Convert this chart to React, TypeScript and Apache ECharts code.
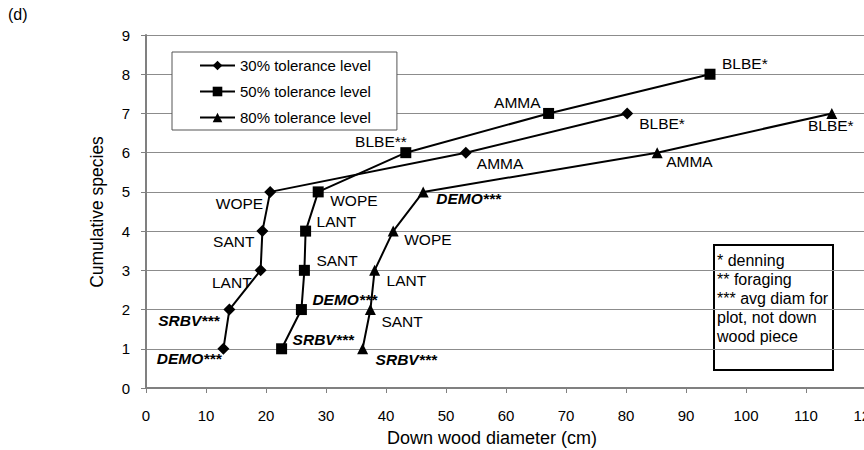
import React, { useEffect, useRef } from "react";
import * as echarts from "echarts";

// ---- data ----
const seriesNames = ["30% tolerance level", "50% tolerance level", "80% tolerance level"];

const species30 = ["DEMO***", "SRBV***", "LANT", "SANT", "WOPE", "AMMA", "BLBE*"];
const diam30 = [12.9, 13.9, 19.1, 19.4, 20.7, 53.3, 80.2];
const cum30 = [1, 2, 3, 4, 5, 6, 7];

const species50 = ["SRBV***", "DEMO***", "SANT", "LANT", "WOPE", "BLBE**", "AMMA", "BLBE*"];
const diam50 = [22.6, 25.9, 26.4, 26.6, 28.7, 43.3, 67.1, 94.0];
const cum50 = [1, 2, 3, 4, 5, 6, 7, 8];

const species80 = ["SRBV***", "SANT", "LANT", "WOPE", "DEMO***", "AMMA", "BLBE*"];
const diam80 = [36.1, 37.4, 38.1, 41.2, 46.2, 85.2, 114.3];
const cum80 = [1, 2, 3, 4, 5, 6, 7];

const xTicks = [0, 10, 20, 30, 40, 50, 60, 70, 80, 90, 100, 110, 120];
const yTicks = [0, 1, 2, 3, 4, 5, 6, 7, 8, 9];

const noteLines = ["* denning", "** foraging", "*** avg diam for", "plot, not down", "wood piece"];

// ---- label placement (layout only) ----
type Place = [number, number, string];
const place30: Place[] = [
  [-2, 10, "right"], [-10, 11, "right"], [-9, 12, "right"], [-8, 10, "right"],
  [-7, 12, "right"], [11, 11, "left"], [12, 10, "left"],
];
const place50: Place[] = [
  [11, -9, "left"], [11, -10, "left"], [12, -10, "left"], [11, -10, "left"],
  [12, 9, "left"], [1, -11, "right"], [-8, -11, "right"], [12, -11, "left"],
];
const place80: Place[] = [
  [13, 11, "left"], [11, 12, "left"], [12, 10, "left"], [11, 8, "left"],
  [13, 7, "left"], [9, 9, "left"], [-1, 12, "center"],
];

const FONT = "'Liberation Sans', Arial, sans-serif";

function buildData(xs: number[], ys: number[], names: string[], places: Place[]) {
  return xs.map((x, i) => {
    const name = names[i];
    const emph = name.endsWith("***");
    const p = places[i];
    return {
      value: [x, ys[i]],
      label: {
        show: true,
        formatter: name,
        position: "inside",
        offset: [p[0], p[1]],
        align: p[2],
        verticalAlign: "middle",
        color: "#000",
        fontSize: 15.5,
        fontFamily: FONT,
        fontWeight: emph ? "bold" : "normal",
        fontStyle: emph ? "italic" : "normal",
      },
    };
  });
}

export default function App() {
  const ref = useRef<HTMLDivElement>(null);

  useEffect(() => {
    if (!ref.current) return;
    const chart = echarts.init(ref.current, null, { renderer: "svg" });

    const lineStyle = { color: "#000", width: 2 };
    const itemStyle = { color: "#000" };

    const option: any = {
      animation: false,
      backgroundColor: "#fff",
      textStyle: { fontFamily: FONT },
      grid: {
        left: 146,
        top: 35,
        width: 720,
        height: 353,
        containLabel: false,
        outerBoundsMode: "none",
      },
      legend: {
        show: true,
        orient: "vertical",
        left: 172,
        top: 52,
        data: seriesNames,
        itemWidth: 35,
        itemHeight: 12,
        itemGap: 11,
        padding: [6, 26, 5, 27],
        borderColor: "#555",
        borderWidth: 1,
        backgroundColor: "#fff",
        itemStyle: { color: "#000" },
        lineStyle: { color: "#000", width: 2 },
        textStyle: { color: "#000", fontSize: 15, fontFamily: FONT },
        z: 10,
      },
      xAxis: {
        type: "value",
        min: xTicks[0],
        max: xTicks[xTicks.length - 1],
        interval: 10,
        axisLine: { show: true, lineStyle: { color: "#808080", width: 2 } },
        axisTick: { show: true, length: 5, lineStyle: { color: "#808080", width: 1 } },
        axisLabel: { color: "#000", fontSize: 15, margin: 20, fontFamily: FONT },
        splitLine: { show: false },
      },
      yAxis: {
        type: "value",
        min: yTicks[0],
        max: yTicks[yTicks.length - 1],
        interval: 1,
        axisLine: { show: true, lineStyle: { color: "#808080", width: 2 } },
        axisTick: { show: true, length: 5, lineStyle: { color: "#808080", width: 1 } },
        axisLabel: { color: "#000", fontSize: 15, margin: 16, fontFamily: FONT },
        splitLine: { show: true, lineStyle: { color: "#8c8c8c", width: 1 } },
      },
      graphic: [
        {
          type: "text",
          left: 8,
          top: 6,
          style: { text: "(d)", fontSize: 16, fontFamily: FONT, fill: "#000" },
        },
        {
          type: "text",
          x: 492,
          y: 438,
          style: {
            text: "Down wood diameter (cm)",
            fontSize: 18,
            fontFamily: FONT,
            fill: "#000",
            align: "center",
            verticalAlign: "middle",
          },
        },
        {
          type: "text",
          x: 97,
          y: 212,
          rotation: Math.PI / 2,
          style: {
            text: "Cumulative species",
            fontSize: 17.5,
            fontFamily: FONT,
            fill: "#000",
            align: "center",
            verticalAlign: "middle",
          },
        },
        {
          type: "group",
          z: 100,
          children: [
            {
              type: "rect",
              shape: { x: 714, y: 245, width: 119, height: 125 },
              style: { fill: "#fff", stroke: "#000", lineWidth: 2 },
            },
            {
              type: "text",
              x: 717,
              y: 251,
              style: {
                text: noteLines.join("\n"),
                fontSize: 16,
                lineHeight: 19,
                fontFamily: FONT,
                fill: "#000",
                align: "left",
                verticalAlign: "top",
              },
            },
          ],
        },
      ],
      series: [
        {
          name: seriesNames[0],
          type: "line",
          symbol: "diamond",
          symbolSize: 12,
          lineStyle,
          itemStyle,
          data: buildData(diam30, cum30, species30, place30),
        },
        {
          name: seriesNames[1],
          type: "line",
          symbol: "rect",
          symbolSize: 11,
          lineStyle,
          itemStyle,
          data: buildData(diam50, cum50, species50, place50),
        },
        {
          name: seriesNames[2],
          type: "line",
          symbol: "triangle",
          symbolSize: 11,
          lineStyle,
          itemStyle,
          data: buildData(diam80, cum80, species80, place80),
        },
      ],
    };

    chart.setOption(option);
    return () => chart.dispose();
  }, []);

  return (
    <div
      ref={ref}
      style={{ position: "absolute", left: 0, top: 0, width: 864, height: 450, overflow: "hidden" }}
    />
  );
}
